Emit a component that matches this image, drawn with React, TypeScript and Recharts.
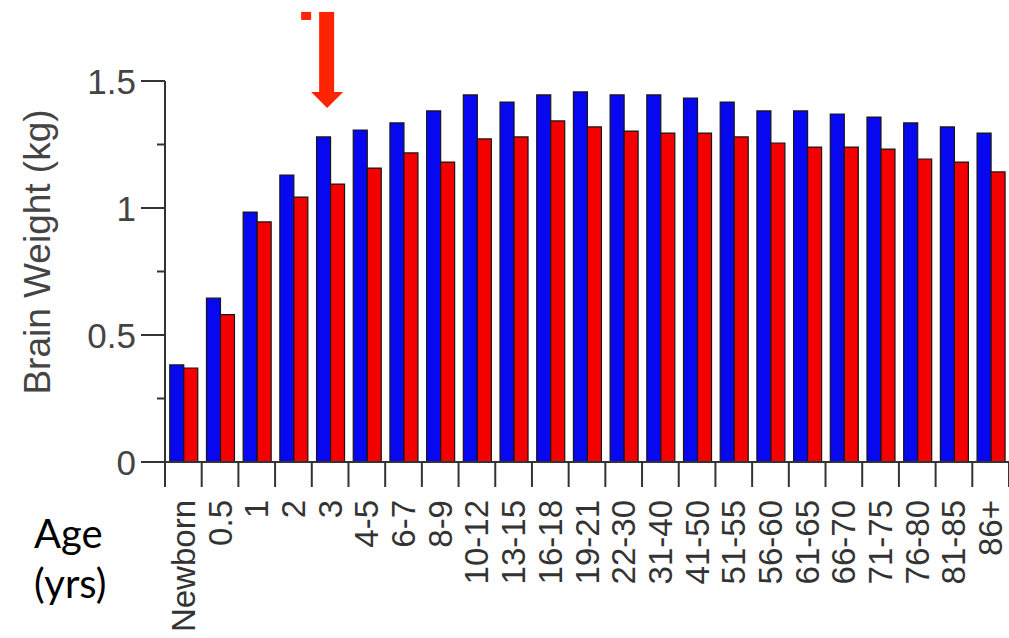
import React from 'react';
import { BarChart, Bar, XAxis, YAxis, ReferenceDot } from 'recharts';

const ages = [
  'Newborn', '0.5', '1', '2', '3', '4-5', '6-7', '8-9', '10-12', '13-15', '16-18', '19-21',
  '22-30', '31-40', '41-50', '51-55', '56-60', '61-65', '66-70', '71-75', '76-80', '81-85', '86+',
];
const blueWeights = [
  0.382, 0.645, 0.984, 1.13, 1.28, 1.307, 1.335, 1.382, 1.445, 1.417, 1.445, 1.457,
  1.445, 1.445, 1.433, 1.417, 1.382, 1.382, 1.37, 1.358, 1.335, 1.319, 1.295,
];
const redWeights = [
  0.37, 0.58, 0.945, 1.043, 1.094, 1.157, 1.217, 1.181, 1.272, 1.28, 1.343, 1.319,
  1.303, 1.295, 1.295, 1.28, 1.256, 1.24, 1.24, 1.232, 1.193, 1.181, 1.142,
];
const yTicks = [0, 0.25, 0.5, 0.75, 1, 1.25, 1.5];
const arrowCategory = '3';
const arrowTip = 1.394;

const data = ages.map((age, i) => ({ age, blue: blueWeights[i], red: redWeights[i] }));

const W = 1009;
const H = 638;
const yAxisW = 165;
const xAxisH = 176;
const topM = 81;
const bandW = (W - yAxisW) / ages.length;
const axisColor = '#333';
const font = '"Liberation Sans", Arial, sans-serif';

const YTick = (props: any) => {
  const { x, y, payload } = props;
  const v = payload.value;
  const major = v % 0.5 === 0;
  return (
    <g>
      <line x1={x - (major ? 24 : 8)} x2={x} y1={y} y2={y} stroke={axisColor} strokeWidth={2} />
      {major && (
        <text x={x - 29} y={y} textAnchor="end" dominantBaseline="central"
          fontSize={35} fill="#444" fontFamily={font}>
          {v}
        </text>
      )}
    </g>
  );
};

const XTick = (props: any) => {
  const { x, y, payload } = props;
  const idx = ages.indexOf(payload.value);
  const left = x - bandW / 2;
  const ty = y + 38;
  return (
    <g>
      <line x1={left} x2={left} y1={y} y2={y + 25} stroke={axisColor} strokeWidth={2} />
      {idx === ages.length - 1 && (
        <line x1={left + bandW} x2={left + bandW} y1={y} y2={y + 25} stroke={axisColor} strokeWidth={2} />
      )}
      <text x={x} y={ty} transform={`rotate(-90 ${x} ${ty})`} textAnchor="end"
        dominantBaseline="central" fontSize={33} fill="#333" fontFamily={font}>
        {payload.value}
      </text>
    </g>
  );
};

const Arrow = (props: any) => {
  const { cx, cy } = props;
  const c = cx - 3;
  return (
    <g fill="#ff2400">
      <rect x={c - 8} y={cy - 96} width={15} height={81} />
      <polygon points={`${c - 16},${cy - 16} ${c + 16},${cy - 16} ${c},${cy}`} />
      <rect x={c - 26} y={cy - 96} width={10} height={8} />
    </g>
  );
};

export default function App() {
  return (
    <div style={{ position: 'absolute', left: 0, top: 0, width: W, height: H, background: '#fff' }}>
      <BarChart
        width={W}
        height={H}
        data={data}
        margin={{ top: topM, right: 0, bottom: 0, left: 0 }}
        barCategoryGap="13%"
        barGap={0}
      >
        <XAxis
          dataKey="age"
          height={xAxisH}
          interval={0}
          tickSize={0}
          tickMargin={0}
          tickLine={false}
          axisLine={{ stroke: axisColor, strokeWidth: 2 }}
          tick={<XTick />}
        />
        <YAxis
          width={yAxisW}
          domain={[0, 1.5]}
          ticks={yTicks}
          interval={0}
          tickSize={0}
          tickMargin={0}
          tickLine={false}
          axisLine={{ stroke: axisColor, strokeWidth: 2 }}
          tick={<YTick />}
          label={{
            content: () => (
              <text transform="translate(37,252) rotate(-90)" textAnchor="middle"
                dominantBaseline="central" fontSize={37} fill="#444" fontFamily={font}>
                Brain Weight (kg)
              </text>
            ),
          }}
        />
        <Bar dataKey="blue" fill="#0808f0" stroke="#161616" strokeWidth={1.2} isAnimationActive={false} />
        <Bar dataKey="red" fill="#f40000" stroke="#161616" strokeWidth={1.2} isAnimationActive={false} />
        <ReferenceDot x={arrowCategory} y={arrowTip} ifOverflow="visible" shape={<Arrow />} />
      </BarChart>
      <div style={{ position: 'absolute', left: 34, top: 508, fontFamily: 'Lato, sans-serif', fontSize: 40, lineHeight: '50px', color: '#000' }}>
        Age
        <br />
        (yrs)
      </div>
    </div>
  );
}
